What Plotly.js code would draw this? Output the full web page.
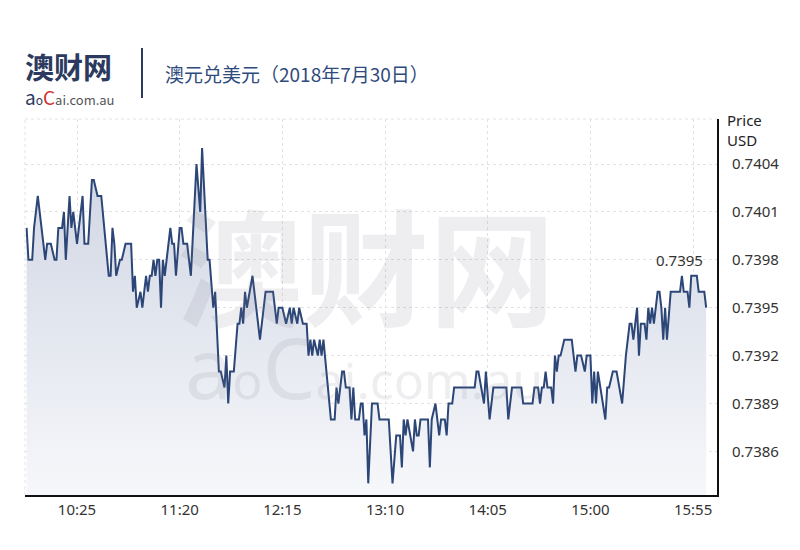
<!DOCTYPE html>
<html>
<head>
<meta charset="utf-8">
<script src="https://cdn.plot.ly/plotly-3.0.1.min.js"></script>
<style>
  html, body { margin: 0; padding: 0; background: #ffffff; }
  #chart { width: 800px; height: 550px; }
</style>
</head>
<body>
<div id="chart"></div>
<script>
const chartDate = '2018-07-30';

const times = [
  '09:58','09:59','10:01','10:02','10:04','10:08','10:09','10:11','10:13','10:14',
  '10:15','10:17','10:18','10:19','10:21','10:22','10:23','10:25','10:28','10:29',
  '10:31','10:33','10:34','10:36','10:38','10:42','10:43','10:44','10:45','10:46',
  '10:48','10:49','10:51','10:54','10:55','10:56','10:57','10:59','11:00','11:01',
  '11:02','11:03','11:04','11:05','11:06','11:07','11:08','11:09','11:10','11:11',
  '11:12','11:13','11:15','11:16','11:17','11:18','11:20','11:21','11:22','11:24',
  '11:26','11:29','11:31','11:32','11:35','11:36','11:38','11:39','11:41','11:42',
  '11:44','11:45','11:46','11:47','11:49','11:51','11:52','11:53','11:54','11:55',
  '11:56','11:59','12:01','12:03','12:06','12:10','12:12','12:13','12:15','12:17',
  '12:19','12:20','12:21','12:23','12:24','12:26','12:28','12:29','12:30','12:31',
  '12:32','12:34','12:35','12:36','12:37','12:41','12:43','12:44','12:45','12:47',
  '12:48','12:49','12:51','12:52','12:53','12:54','12:56','12:57','12:58','12:59',
  '13:00','13:01','13:03','13:06','13:07','13:12','13:14','13:16','13:18','13:19',
  '13:20','13:21','13:22','13:25','13:26','13:27','13:28','13:29','13:33','13:34',
  '13:35','13:37','13:39','13:40','13:42','13:43','13:44','13:46','13:47','13:58',
  '13:59','14:00','14:03','14:04','14:06','14:08','14:15','14:16','14:18','14:23',
  '14:24','14:29','14:30','14:32','14:33','14:34','14:35','14:36','14:37','14:39',
  '14:40','14:41','14:42','14:43','14:44','14:46','14:50','14:52','14:53','14:55',
  '14:57','14:58','15:00','15:01','15:02','15:03','15:04','15:08','15:09','15:10',
  '15:12','15:14','15:17','15:19','15:21','15:22','15:23','15:25','15:26','15:27',
  '15:29','15:30','15:31','15:32','15:33','15:34','15:36','15:37','15:38','15:39',
  '15:40','15:41','15:43','15:48','15:49','15:50','15:52','15:53','15:54','15:57',
  '15:58','16:01','16:02'
];

const prices = [
  0.7400,0.7398,0.7398,0.7400,0.7402,0.7398,0.7399,0.7399,0.7398,0.7398,
  0.7400,0.7400,0.7401,0.7398,0.7402,0.7400,0.7401,0.7399,0.7402,0.7399,
  0.7399,0.7403,0.7403,0.7402,0.7402,0.7397,0.7397,0.7400,0.7399,0.7397,
  0.7398,0.7398,0.7399,0.7399,0.7396,0.7397,0.7395,0.7396,0.7395,0.7396,
  0.7397,0.7396,0.7397,0.7397,0.7398,0.7397,0.7398,0.7398,0.7395,0.7398,
  0.7397,0.7398,0.7400,0.7399,0.7399,0.7397,0.7400,0.7400,0.7399,0.7399,
  0.7397,0.7404,0.7401,0.7405,0.7398,0.7398,0.7395,0.7396,0.7391,0.7391,
  0.7390,0.7392,0.7389,0.7391,0.7391,0.7394,0.7394,0.7395,0.7394,0.7396,
  0.7395,0.7397,0.7395,0.7393,0.7396,0.7396,0.7394,0.7395,0.7395,0.7394,
  0.7395,0.7394,0.7395,0.7394,0.7395,0.7394,0.7394,0.7392,0.7393,0.7392,
  0.7393,0.7392,0.7393,0.7392,0.7393,0.7388,0.7388,0.7390,0.7389,0.7391,
  0.7391,0.7390,0.7390,0.7388,0.7390,0.7388,0.7388,0.7389,0.7389,0.7387,
  0.7388,0.7384,0.7389,0.7389,0.7388,0.7388,0.7384,0.7387,0.7387,0.7385,
  0.7388,0.7387,0.7388,0.7386,0.7388,0.7387,0.7387,0.7388,0.7388,0.7385,
  0.7388,0.7389,0.7387,0.7388,0.7388,0.7387,0.7389,0.7389,0.7390,0.7390,
  0.7391,0.7391,0.7389,0.7391,0.7388,0.7390,0.7390,0.7388,0.7390,0.7390,
  0.7389,0.7389,0.7390,0.7390,0.7389,0.7390,0.7390,0.7391,0.7390,0.7390,
  0.7389,0.7392,0.7391,0.7392,0.7392,0.7393,0.7393,0.7391,0.7392,0.7392,
  0.7391,0.7392,0.7392,0.7389,0.7391,0.7389,0.7391,0.7388,0.7390,0.7390,
  0.7391,0.7391,0.7389,0.7392,0.7394,0.7394,0.7393,0.7395,0.7392,0.7394,
  0.7394,0.7393,0.7395,0.7394,0.7395,0.7394,0.7396,0.7396,0.7395,0.7393,
  0.7395,0.7393,0.7396,0.7396,0.7397,0.7396,0.7396,0.7395,0.7397,0.7397,
  0.7396,0.7396,0.7395
];

const xTickTimes = ['10:25','11:20','12:15','13:10','14:05','15:00','15:55'];
const yTickVals = [0.7386,0.7389,0.7392,0.7395,0.7398,0.7401,0.7404];

const titleText = '澳元兑美元（2018年7月30日）';
const axisTitleText = 'Price<br>USD';

const stamp = t => chartDate + ' ' + t;
const xs = times.map(stamp);
const lastX = xs[xs.length - 1];
const lastY = prices[prices.length - 1];

const navy = '#2c4677';
const font = '"Noto Sans", "Noto Sans CJK SC", sans-serif';
const gridCol = '#e2e2e2';
const wm = 'rgba(120,120,140,0.13)';

const trace = {
  type: 'scatter',
  mode: 'lines',
  x: xs,
  y: prices,
  line: { color: navy, width: 2 },
  fill: 'tozeroy',
  fillgradient: {
    type: 'vertical',
    start: 0.7383,
    stop: 0.7405,
    colorscale: [[0, 'rgba(247,248,251,1)'], [1, 'rgba(206,212,226,1)']]
  },
  hoverinfo: 'skip'
};

const layout = {
  width: 800,
  height: 550,
  margin: { l: 25, r: 83, t: 119, b: 55 },
  paper_bgcolor: '#ffffff',
  plot_bgcolor: '#ffffff',
  showlegend: false,
  font: { family: font, color: '#333333', size: 15 },
  title: {
    text: titleText,
    x: 165 / 800, xanchor: 'left', xref: 'container',
    y: 1 - 75 / 550, yanchor: 'middle', yref: 'container',
    font: { family: '"Noto Sans CJK SC", sans-serif', size: 19, color: '#2f4a7c' }
  },
  xaxis: {
    type: 'date',
    range: [stamp('09:57:09'), stamp('16:07:48')],
    tickvals: xTickTimes.map(stamp),
    ticktext: xTickTimes,
    showgrid: true,
    gridcolor: gridCol,
    griddash: 'dot',
    gridwidth: 1,
    showline: true,
    linecolor: '#111111',
    linewidth: 2,
    ticks: '',
    zeroline: false,
    tickfont: { family: font, size: 15, color: '#333333' },
    fixedrange: true
  },
  yaxis: {
    side: 'right',
    range: [0.738327, 0.740682],
    tickvals: yTickVals,
    ticktext: yTickVals.map(v => v.toFixed(4)),
    showgrid: true,
    gridcolor: gridCol,
    griddash: 'dot',
    gridwidth: 1,
    showline: true,
    linecolor: '#111111',
    linewidth: 2,
    ticks: '',
    ticklabelstandoff: 10,
    zeroline: false,
    tickfont: { family: font, size: 15, color: '#333333' },
    fixedrange: true
  },
  shapes: [
    { type: 'line', xref: 'paper', yref: 'paper', x0: 0, x1: 1, y0: 1, y1: 1,
      line: { color: gridCol, width: 1, dash: 'dot' } },
    { type: 'line', xref: 'paper', yref: 'paper', x0: 0, x1: 0, y0: 0, y1: 1,
      line: { color: gridCol, width: 1, dash: 'dot' } },
    { type: 'line', xref: 'paper', yref: 'paper',
      x0: (142 - 25) / 692, x1: (142 - 25) / 692,
      y0: (495 - 48) / 376, y1: (495 - 98) / 376,
      line: { color: '#2b3a5e', width: 2 } }
  ],
  annotations: [
    { xref: 'paper', yref: 'paper', x: (366 - 25) / 692, y: (495 - 262) / 376,
      text: '<b>澳财网</b>', showarrow: false, xanchor: 'center', yanchor: 'middle',
      font: { family: '"Noto Sans CJK SC", sans-serif', size: 126, color: wm } },
    { xref: 'paper', yref: 'paper', x: (183 - 25) / 692, y: (495 - 366) / 376,
      text: '<span style="font-size:84px">a</span><span style="font-size:50px">o</span><span style="font-size:84px">C</span><span style="font-size:50px">ai.com.au</span>',
      showarrow: false, xanchor: 'left', yanchor: 'middle',
      font: { family: '"Noto Sans", sans-serif', size: 40, color: wm } },
    { x: lastX, y: lastY, text: lastY.toFixed(4), showarrow: false,
      xanchor: 'center', yanchor: 'middle', xshift: -27, yshift: 48,
      font: { family: font, size: 15, color: '#333333' } },
    { xref: 'paper', yref: 'paper', x: (725 - 25) / 692, y: (495 - 108) / 376,
      xanchor: 'left', yanchor: 'top',
      text: axisTitleText, showarrow: false, align: 'left',
      font: { family: font, size: 15, color: '#222222' } },
    { xref: 'paper', yref: 'paper', x: (23 - 25) / 692, y: (495 - 77) / 376,
      xanchor: 'left', yanchor: 'middle', showarrow: false, align: 'left',
      text: '<b style="font-size:29px;color:#2b3a5e">澳财网</b><br><span style="font-size:19px;color:#2b3a5e">a</span><span style="font-size:12px;color:#2b3a5e">o</span><span style="font-size:19px;color:#d32f2f">C</span><span style="font-size:13px;color:#555555">ai.com.au</span>',
      font: { family: '"Noto Sans CJK SC", "Noto Sans", sans-serif', size: 20, color: '#555555' } }
  ]
};

Plotly.newPlot('chart', [trace], layout, { displayModeBar: false, staticPlot: true });
</script>
</body>
</html>
